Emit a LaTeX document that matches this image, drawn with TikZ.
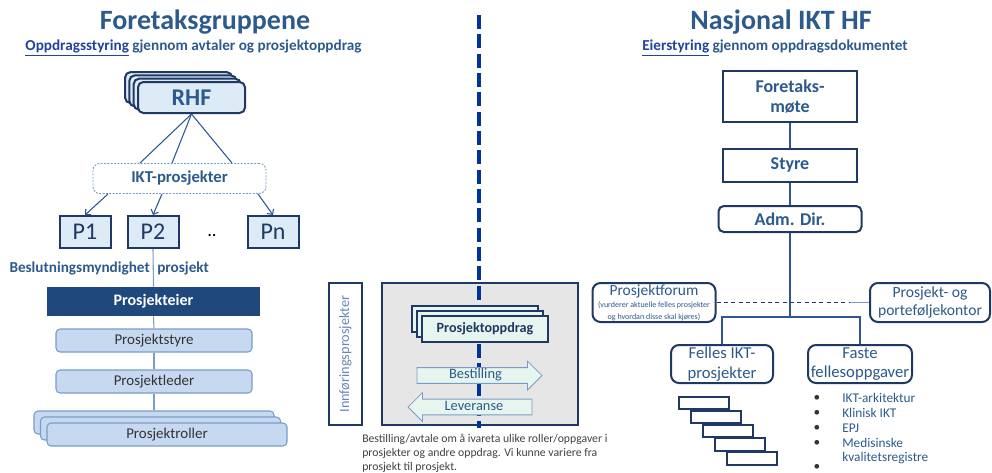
\documentclass[tikz,border=0pt]{standalone}
\usepackage{fontspec}
\setmainfont{Carlito}
\usepackage{xcolor}
\usepackage{tikz}
\usetikzlibrary{arrows.meta,positioning,shapes.arrows}

\definecolor{tblue}{HTML}{2C5A8C}
\definecolor{ublue}{HTML}{1F44A0}
\definecolor{navy}{HTML}{1F3864}
\definecolor{lfill}{HTML}{DDEBF7}
\definecolor{mfill}{HTML}{C6D9F0}
\definecolor{mline}{HTML}{7A9CC8}
\definecolor{eierfill}{HTML}{1F497D}
\definecolor{linkblue}{HTML}{2F5597}
\definecolor{sepblue}{HTML}{003399}
\definecolor{grayfill}{HTML}{E6E6E6}
\definecolor{mint}{HTML}{E6F5EE}
\definecolor{capgray}{HTML}{404040}

\newcommand{\pxu}{0.75pt}
\newcommand{\fsz}[2]{\fontsize{#1}{#2}\selectfont}

\begin{document}
\begin{tikzpicture}[x=0.75pt,y=-0.75pt,
  navybox/.style={draw=navy,line width=1.5pt,fill=lfill,align=center,inner sep=0pt},
  whitebox/.style={draw=navy,line width=1.5pt,fill=white,align=center,inner sep=0pt,text=tblue},
  lightbox/.style={draw=mline,line width=0.8pt,fill=mfill,rounded corners=3pt,inner sep=0pt,text=black!80,font=\fsz{11.2pt}{13pt}},
  mintbox/.style={draw=navy,line width=1.5pt,fill=mint,inner sep=0pt},
  blockarr/.style={single arrow,draw=mline,line width=0.6pt,fill=mint,single arrow head extend=4.9pt,inner xsep=2pt,inner ysep=1pt,text height=7.2pt,text depth=2pt,text=tblue,font=\fsz{10.8pt}{12pt}},
  link/.style={draw=linkblue,line width=0.8pt},
  rlink/.style={draw=linkblue,line width=1.1pt},
  vline/.style={draw=mline,line width=0.8pt},
  ttl/.style={text=tblue,font=\bfseries\fsz{21pt}{24pt}},
  subttl/.style={text=tblue,font=\bfseries\fsz{11.4pt}{13pt}},
  bul/.style={text=tblue,font=\fsz{10pt}{12pt},inner sep=0pt,anchor=west}]
\useasboundingbox (0,0) rectangle (992,472);

% titles
\node[ttl]    (ttlL) at (205,22) {Foretaksgruppene};
\node[subttl] (subL) at (193.5,48) {\textcolor{ublue}{\underline{Oppdragsstyring}} gjennom avtaler og prosjektoppdrag};
\node[ttl]    (ttlR) at (781,22) {Nasjonal IKT HF};
\node[subttl] (subR) at (775,48) {\textcolor{ublue}{\underline{Eierstyring}} gjennom oppdragsdokumentet};

% left: RHF and projects
\foreach \i/\dx/\dy in {3/-12.9/-9.9,2/-8.6/-6.6,1/-4.3/-3.3}
  \node[navybox,rounded corners=4pt,minimum width=107*\pxu,minimum height=31*\pxu] (rhf\i) at (191.5+\dx,97.5+\dy) {};
\node[navybox,rounded corners=4pt,minimum width=107*\pxu,minimum height=31*\pxu,text=tblue,font=\bfseries\fsz{18pt}{20pt}] (rhf) at (191.5,97.5) {RHF};
\node[draw=mline,dash pattern=on 1.5pt off 1pt,line width=0.7pt,fill=white,rounded corners=5pt,minimum width=173*\pxu,minimum height=30*\pxu,text=tblue,font=\bfseries\fsz{12.5pt}{14pt}] (ikt) at (179.5,178.5) {IKT-prosjekter};
\draw[link] (rhf.south) -- ([xshift=-39.5*\pxu]ikt.north);
\draw[link] (rhf.south) -- ([xshift=-7.5*\pxu]ikt.north);
\draw[link] (rhf.south) -- ([xshift=52.5*\pxu]ikt.north);
\node[navybox,minimum width=51*\pxu,minimum height=32*\pxu,text=navy,font=\fsz{18pt}{20pt}] (p1) at (85,232) {P1};
\node[navybox,minimum width=51*\pxu,minimum height=32*\pxu,text=navy,font=\fsz{18pt}{20pt}] (p2) at (153,232) {P2};
\node[navybox,minimum width=51*\pxu,minimum height=32*\pxu,text=navy,font=\fsz{18pt}{20pt}] (pn) at (273,232) {Pn};
\node[font=\fsz{14pt}{15pt}] (pdots) at (212,236) {..};
\draw[link,-{Straight Barb[length=3pt]}] ([xshift=-71.5*\pxu]ikt.south) -- (p1.north);
\draw[link,-{Straight Barb[length=3pt]}] ([xshift=-17.5*\pxu]ikt.south) -- (p2.north);
\draw[link,-{Straight Barb[length=3pt]}] ([xshift=78.5*\pxu]ikt.south) -- (pn.north);

% left: project organisation
\node[fill=eierfill,minimum width=213*\pxu,minimum height=29*\pxu,inner sep=0pt,text=white,font=\bfseries\fsz{12pt}{14pt}] (eier) at (153.5,301.5) {Prosjekteier};
\node[lightbox,minimum width=196*\pxu,minimum height=23*\pxu] (pstyre) at (154,340.5) {Prosjektstyre};
\node[lightbox,minimum width=196*\pxu,minimum height=23*\pxu] (pleder) at (154,381.5) {Prosjektleder};
\node[lightbox,minimum width=240*\pxu,minimum height=23*\pxu] (proller3) at (154,422.5) {};
\node[lightbox,minimum width=240*\pxu,minimum height=23*\pxu] (proller2) at (160.5,428.5) {};
\node[lightbox,minimum width=240*\pxu,minimum height=23*\pxu] (proller) at (167,434.5) {Prosjektroller};
\draw[vline] (p2.south) -- (eier.north);
\draw[vline] (eier.south) -- (pstyre.north);
\draw[vline] (pstyre.south) -- (pleder.north);
\draw[vline] (pleder.south) -- (proller3.north);
\node[subttl,font=\bfseries\fsz{11.4pt}{13pt},anchor=east,inner sep=0pt] (beslA) at (150,268) {Beslutningsmyndighet};
\node[subttl,font=\bfseries\fsz{11.4pt}{13pt},anchor=west,inner sep=0pt] (beslB) at (157,268) {prosjekt};

% middle
\node[draw=navy,line width=1.5pt,fill=white,rotate=90,minimum width=142*\pxu,minimum height=33*\pxu,inner sep=0pt,text=mline!80!navy,font=\fsz{10.7pt}{12pt}] (innf) at (345.5,354) {Innføringsprosjekter};
\node[draw=navy,line width=1.5pt,fill=grayfill,minimum width=196*\pxu,minimum height=142*\pxu] (graybox) at (480,354) {};
\coordinate (sepTop) at (479,15);
\coordinate (sepBot) at (479,428);
\draw[sepblue,line width=3.6pt,dash pattern=on 10.5pt off 4pt] (sepTop) -- (sepBot);
\node[mintbox,minimum width=126*\pxu,minimum height=26*\pxu] (oppdrag2) at (475,319) {};
\node[mintbox,minimum width=126*\pxu,minimum height=26*\pxu] (oppdrag1) at (480,324) {};
\node[mintbox,minimum width=126*\pxu,minimum height=26*\pxu,text=navy,font=\bfseries\fsz{10.6pt}{12pt}] (oppdrag) at (485,329) {Prosjektoppdrag};
\node[blockarr,minimum height=125*\pxu] (bestill) at (475.5,375.5) {Bestilling};
\node[blockarr,shape border rotate=180,minimum height=124*\pxu] (lever) at (474,407) {Leveranse};
\node[anchor=north west,align=left,inner sep=0pt,text=capgray,font=\fsz{8.8pt}{10.5pt}] (caption) at (362,434)
  {Bestilling/avtale om å ivareta ulike roller/oppgaver i\\prosjekter og andre oppdrag. Vi kunne variere fra\\prosjekt til prosjekt.};

% right: Nasjonal IKT HF
\node[whitebox,minimum width=134*\pxu,minimum height=51*\pxu,font=\bfseries\fsz{13.5pt}{15.5pt}] (fm) at (790,96.5) {Foretaks-\\møte};
\node[whitebox,minimum width=134*\pxu,minimum height=33*\pxu,font=\bfseries\fsz{13.5pt}{15.5pt}] (styre) at (790,165) {Styre};
\node[whitebox,rounded corners=4pt,minimum width=143*\pxu,minimum height=26*\pxu,font=\bfseries\fsz{13.5pt}{15.5pt}] (adm) at (790,219) {Adm. Dir.};
\node[whitebox,rounded corners=6pt,minimum width=123*\pxu,minimum height=39*\pxu,font=\fsz{11.6pt}{12pt}] (forum) at (654,302.5)
  {Prosjektforum\\[-2.5pt]{\fsz{6pt}{6.5pt}(vurderer aktuelle felles prosjekter}\\[-3.5pt]{\fsz{6pt}{6.5pt}og hvordan disse skal kjøres)}};
\node[whitebox,rounded corners=6pt,minimum width=120*\pxu,minimum height=39*\pxu,font=\fsz{11.7pt}{14pt}] (kontor) at (930,302.5) {Prosjekt- og\\porteføljekontor};
\node[whitebox,rounded corners=6pt,minimum width=102*\pxu,minimum height=38*\pxu,font=\fsz{12.5pt}{14.5pt}] (felles) at (722,364) {Felles IKT-\\prosjekter};
\node[whitebox,rounded corners=6pt,minimum width=104*\pxu,minimum height=38*\pxu,font=\fsz{12.5pt}{14.5pt}] (faste) at (860,364) {Faste\\fellesoppgaver};
\coordinate (junc) at (790,317);
\coordinate (pfend) at (850,302.5);
\draw[rlink] (fm) -- (styre);
\draw[rlink] (styre) -- (adm);
\draw[rlink] (adm.south) -- (junc);
\draw[rlink] (felles.north) |- (junc) -| (faste.north);
\draw[navy,line width=1pt,dash pattern=on 3pt off 2.5pt] (forum.east) -- (pfend);
\draw[link,draw=mline] (pfend) -- (kontor.west);
% stairs
\foreach \i in {0,...,4}
  \node[draw=navy,line width=1.5pt,fill=white,minimum width=50*\pxu,minimum height=12.5*\pxu,inner sep=0pt] (stair\i) at (704+12*\i,403+13.9*\i) {};
% task list
\foreach \t/\y in {IKT-arkitektur/398,Klinisk IKT/413,EPJ/428,Medisinske/443}
  \node[bul] at (842,\y) {\t};
\node[bul] (kvreg) at (842,458) {kvalitetsregistre};
\foreach \y in {398,413,428,443,467}
  \node[bul,anchor=center,text=black!80] at (817,\y) {•};
\end{tikzpicture}
\end{document}
